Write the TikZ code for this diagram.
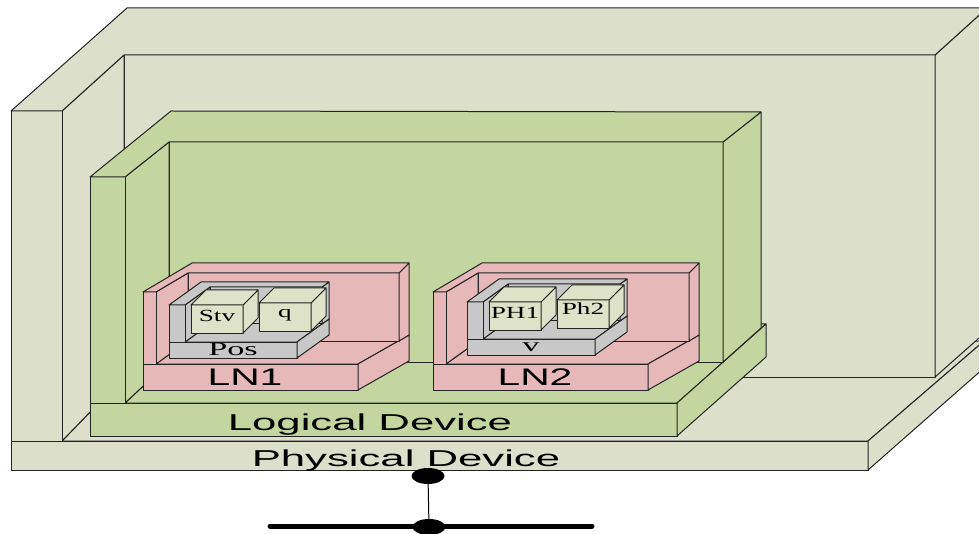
\documentclass[tikz,border=0pt]{standalone}
\usepackage{fontspec}
\newfontfamily\boxfont{Liberation Sans}
\newfontfamily\datafont{Liberation Serif}
\usetikzlibrary{shapes.geometric}

\definecolor{physc}{RGB}{220,224,203}
\definecolor{logc}{RGB}{196,214,160}
\definecolor{lnc}{RGB}{230,185,184}
\definecolor{doc}{RGB}{200,200,200}
\definecolor{dac}{RGB}{222,226,201}
\definecolor{edgec}{RGB}{35,35,35}

\tikzset{
	face/.style={draw=edgec, line width=1pt, line join=round},
	physface/.style={face, fill=physc},
	logface/.style={face, fill=logc},
	lnface/.style={face, fill=lnc},
	doface/.style={face, fill=doc},
	daface/.style={face, fill=dac},
	devtext/.style={font=\boxfont\fontsize{23}{23}\selectfont, inner sep=0pt, anchor=base, xscale=1.9},
	lntext/.style={font=\boxfont\fontsize{24}{24}\selectfont, inner sep=0pt, anchor=base, xscale=1.7},
	dotext/.style={font=\datafont\fontsize{19}{19}\selectfont, inner sep=0pt, anchor=base, xscale=1.8},
	datext/.style={font=\datafont\fontsize{17}{17}\selectfont, inner sep=0pt, anchor=base, xscale=1.6},
	tapdot/.style={ellipse, fill=black, minimum width=33pt, minimum height=16pt, inner sep=0pt}
}

% one data attribute cube: name, front top-left x, y, baseline offset
\newcommand{\dacube}[4]{%
	\path[daface] (#2,#3) rectangle ++(52,28);
	\path[daface] (#2+52,#3) -- ++(15,-15) -- ++(0,28) -- ++(-15,15) -- cycle;
	\path[daface] (#2,#3) -- ++(15,-15) -- ++(52,0) -- ++(-15,15) -- cycle;
	\node[datext] (#1) at (#2+26,#3+#4) {#1};}

% logical node with its data object: LN, DO, DA1, DA2, shift, shift of DO
\newcommand{\lnunit}[6]{%
	\begin{scope}[shift={#5}]
		\path[lnface] (156,364) -- (358,364) -- (409,335) -- (188,335) -- (188,341) -- cycle;
		\path[lnface] (143,364) rectangle (358,390);
		\path[lnface] (358,364) -- (409,335) -- (409,361) -- (358,390) -- cycle;
		\path[lnface] (188,273) rectangle (399,341);
		\path[lnface] (399,273) -- (409,263) -- (409,335) -- (399,341) -- cycle;
		\path[lnface] (156,292) -- (188,273) -- (188,341) -- (156,364) -- cycle;
		\path[lnface] (143,292) rectangle (156,364);
		\path[lnface] (143,292) -- (156,292) -- (188,273) -- (399,273) -- (409,263) -- (192,263) -- cycle;
		\node[lntext] (#1) at (245,385) {#1};
	\end{scope}
	\begin{scope}[shift={#6}]
		\path[doface] (185,342) -- (297,342) -- (329,319) -- (210,319) -- (210,324) -- cycle;
		\path[doface] (169,342) rectangle (297,358);
		\path[doface] (297,342) -- (329,319) -- (329,335) -- (297,358) -- cycle;
		\path[doface] (210,287) rectangle (322,324);
		\path[doface] (322,287) -- (329,282) -- (329,319) -- (322,324) -- cycle;
		\path[doface] (185,305) -- (210,287) -- (210,324) -- (185,342) -- cycle;
		\path[doface] (169,305) rectangle (185,342);
		\path[doface] (169,305) -- (185,305) -- (210,287) -- (322,287) -- (329,282) -- (201,282) -- cycle;
		\node[dotext] (#2) at (233,355) {#2};
		\dacube{#3}{191}{305}{17}
		\dacube{#4}{259}{303}{15}
	\end{scope}}

\begin{document}
\begin{tikzpicture}[x=1pt, y=-1pt]
	\useasboundingbox (0,0) rectangle (979,534);
	\clip (0,0) rectangle (979,534);

	% physical device
	\path[physface] (62,441) -- (868,441) -- (984,341) -- (124,341) -- (124,377) -- cycle;
	\path[physface] (11,441) rectangle (868,470);
	\path[physface] (868,441) -- (984,341) -- (984,368) -- (868,470) -- cycle;
	\path[physface] (124,55) rectangle (935,377);
	\path[physface] (935,55) -- (987,8) -- (987,331) -- (935,377) -- cycle;
	\path[physface] (62,111) -- (124,55) -- (124,377) -- (62,441) -- cycle;
	\path[physface] (11,111) rectangle (62,441);
	\path[physface] (11,111) -- (62,111) -- (124,55) -- (935,55) -- (987,8) -- (127,8) -- cycle;
	\node[devtext] (phys) at (406,466) {Physical Device};

	% logical device
	\path[logface] (125,403) -- (677,403) -- (766,324) -- (169,324) -- (169,362) -- cycle;
	\path[logface] (90,403) rectangle (677,436);
	\path[logface] (677,403) -- (766,324) -- (766,357) -- (677,436) -- cycle;
	\path[logface] (169,142) rectangle (723,362);
	\path[logface] (723,142) -- (761,112) -- (761,328) -- (723,362) -- cycle;
	\path[logface] (125,177) -- (169,142) -- (169,362) -- (125,403) -- cycle;
	\path[logface] (90,177) rectangle (125,403);
	\path[logface] (90,177) -- (125,177) -- (169,142) -- (723,142) -- (761,112) -- (171,111) -- cycle;
	\node[devtext] (logic) at (370,430) {Logical Device};

	\lnunit{LN1}{Pos}{Stv}{q}{(0,0)}{(0,0)}
	\lnunit{LN2}{v}{PH1}{Ph2}{(290,0)}{(298,-3)}

	% connection to the bus
	\coordinate (busw) at (270,526);
	\coordinate (buse) at (592,526);
	\draw[line width=5pt, line cap=round] (busw) -- (buse);
	\node[tapdot] (tap) at (428,476) {};
	\node[tapdot] (bus) at (429,527) {};
	\draw[line width=1pt] (tap) -- (bus);
\end{tikzpicture}
\end{document}
